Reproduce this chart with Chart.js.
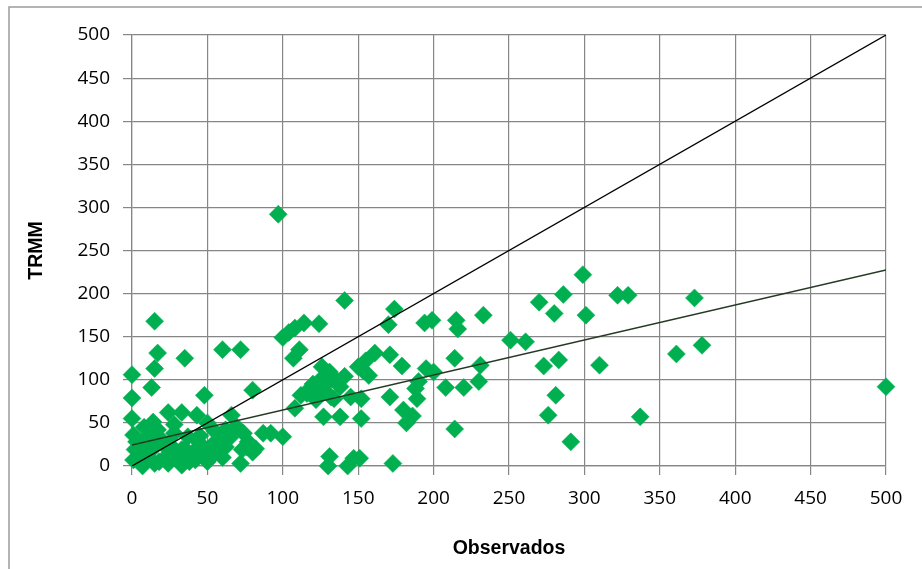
<!DOCTYPE html>
<html>
<head>
<meta charset="utf-8">
<script src="https://cdn.jsdelivr.net/npm/chart.js@4.4.1/dist/chart.umd.min.js"></script>
<style>
  html, body { margin: 0; padding: 0; background: #ffffff; }
  #wrap { position: relative; width: 922px; height: 569px; }
</style>
</head>
<body>
<div id="wrap"><canvas id="chart" width="922" height="569"></canvas></div>
<script>
const observados = [
  97, 500, 337, 299, 286, 270, 280, 301, 322, 329, 373, 378, 361, 251, 261, 273, 283, 310,
  281, 276, 291, 233, 231, 230, 174, 170, 194, 199, 215, 216, 161, 171, 179, 195, 200, 214,
  153, 190, 188, 208, 220, 171, 189, 180, 186, 182, 214, 152, 173, 151, 141, 100, 108, 114,
  124, 104, 72, 60, 111, 107, 126, 131, 141, 150, 118, 127, 138, 80, 122, 132, 145, 108,
  127, 138, 92, 100, 76, 72, 131, 130, 147, 143, 69, 82, 87, 135, 112, 125, 120, 155, 157,
  152, 15, 17, 35, 15, 0, 13, 0, 48, 0, 24, 33, 14, 28, 43, 66, 12, 1, 17, 50, 55, 62, 65,
  74, 77, 80, 73, 62, 53, 44, 37, 33, 24, 15, 2, 1, 7, 15, 24, 33, 42, 40, 48, 22, 11, 7,
  5, 10, 20, 25, 30, 35, 38, 45, 50, 55, 58, 60, 28, 8, 3, 18, 116, 134, 128
];
const trmm = [
  292, 92, 57, 222, 199, 190, 177, 175, 198, 198, 195, 140, 130, 146, 144, 116, 123, 117,
  82, 59, 28, 175, 117, 98, 182, 164, 166, 169, 169, 159, 131, 129, 116, 113, 109, 125,
  111, 98, 90, 91, 91, 80, 78, 65, 58, 50, 43, 55, 3, 9, 192, 149, 160, 166,
  165, 155, 135, 135, 135, 125, 115, 109, 104, 115, 90, 88, 92, 88, 77, 80, 80, 67,
  57, 57, 38, 34, 22, 3, 11, 0, 9, 0, 46, 20, 38, 100, 82, 100, 95, 122, 105,
  78, 168, 131, 125, 113, 106, 91, 79, 82, 55, 62, 62, 51, 48, 59, 59, 36, 36, 42, 50, 40, 42, 33,
  38, 28, 16, 19, 22, 24, 28, 34, 19, 19, 22, 19, 7, 0, 3, 3, 1, 7, 15, 15, 10, 9, 27,
  5, 15, 30, 25, 12, 20, 5, 35, 5, 15, 28, 10, 38, 45, 28, 5, 84, 78, 94
];

// reference lines: 1:1 and linear fit
const identityLine = [[0, 0], [500, 500]];
const trendLine = [[0, 24.4], [500, 227.4]];

const axisTicks = [0, 50, 100, 150, 200, 250, 300, 350, 400, 450, 500];

const toXY = pairs => pairs.map(p => ({ x: p[0], y: p[1] }));

const scatterPoints = observados.map((v, i) => ({ x: v, y: trmm[i] }));

const gridColor = '#868686';

// frame drawn around the chart like the spreadsheet chart object
const framePlugin = {
  id: 'frame',
  beforeDraw(chart) {
    const ctx = chart.ctx;
    ctx.save();
    ctx.fillStyle = '#ffffff';
    ctx.fillRect(0, 0, chart.width, chart.height);
    ctx.strokeStyle = '#9c9c9c';
    ctx.lineWidth = 1.5;
    ctx.beginPath();
    ctx.moveTo(9, chart.height + 2);
    ctx.lineTo(9, 7);
    ctx.lineTo(chart.width + 2, 7);
    ctx.stroke();
    ctx.restore();
  }
};

const ctx = document.getElementById('chart');

new Chart(ctx, {
  type: 'scatter',
  data: {
    datasets: [
      {
        label: 'Identidad',
        type: 'line',
        data: toXY(identityLine),
        borderColor: '#000000',
        borderWidth: 1.3,
        pointRadius: 0,
        fill: false,
        order: 0
      },
      {
        label: 'Tendencia',
        type: 'line',
        data: toXY(trendLine),
        borderColor: '#243a24',
        borderWidth: 1.5,
        pointRadius: 0,
        fill: false,
        order: 0
      },
      {
        label: 'TRMM',
        data: scatterPoints,
        pointStyle: 'rectRot',
        pointRadius: 9,
        pointBackgroundColor: '#00b050',
        pointBorderColor: '#00b050',
        pointBorderWidth: 0.5,
        clip: false,
        order: 1
      }
    ]
  },
  options: {
    responsive: false,
    animation: false,
    layout: {
      padding: { left: 0, top: 35, right: 36, bottom: 0 }
    },
    plugins: {
      legend: { display: false },
      tooltip: { enabled: false }
    },
    scales: {
      x: {
        type: 'linear',
        min: 0,
        max: 500,
        afterBuildTicks: scale => { scale.ticks = axisTicks.map(v => ({ value: v })); },
        afterFit: scale => { scale.height = 103; },
        grid: { color: gridColor, lineWidth: 1.2, tickLength: 9 },
        border: { color: gridColor, width: 1.2 },
        ticks: {
          padding: 12,
          color: '#000000',
          maxRotation: 0,
          font: { family: "'Open Sans', sans-serif", size: 19 }
        },
        title: {
          display: true,
          text: 'Observados',
          color: '#000000',
          padding: { top: 0, bottom: 9 },
          font: { family: "'Liberation Sans', Arial, sans-serif", size: 19.5, weight: 'bold' }
        }
      },
      y: {
        type: 'linear',
        min: 0,
        max: 500,
        afterBuildTicks: scale => { scale.ticks = axisTicks.map(v => ({ value: v })); },
        afterFit: scale => { scale.width = 132; },
        grid: { color: gridColor, lineWidth: 1.2, tickLength: 9 },
        border: { color: gridColor, width: 1.2 },
        ticks: {
          padding: 13,
          color: '#000000',
          font: { family: "'Open Sans', sans-serif", size: 19 }
        },
        title: {
          display: true,
          text: 'TRMM',
          color: '#000000',
          padding: { top: 25, bottom: 0 },
          font: { family: "'Liberation Sans', Arial, sans-serif", size: 19.5, weight: 'bold' }
        }
      }
    }
  },
  plugins: [framePlugin]
});
</script>
</body>
</html>
